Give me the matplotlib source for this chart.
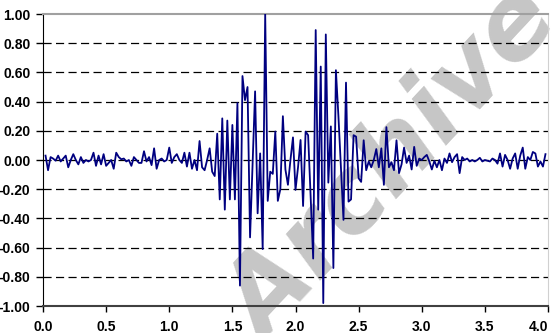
import matplotlib
matplotlib.use("Agg")
import matplotlib.pyplot as plt
import numpy as np

# sampled signal, one value every 0.02 s starting at t = 0.02
quiet_head = [
    0.03, -0.07, 0.02, 0.01, -0.005, 0.03, -0.01, 0.01, 0.03, -0.05,
    0.0, 0.04, 0.0, -0.03, 0.02, -0.02, 0.0, -0.01, 0.0, 0.05,
    -0.04, 0.03, -0.03, 0.04, -0.04, -0.02, 0.0, -0.06, 0.05, 0.02,
    0.005, 0.01, -0.01, 0.0, -0.04, 0.02, 0.0, -0.02,
    -0.02, 0.06, -0.01, 0.02, -0.035, 0.08, -0.06, 0.0, 0.01, -0.01,
    0.0, 0.085, -0.02, 0.02, 0.04, 0.0, -0.02, 0.05, -0.045, 0.05,
    -0.06, 0.0, -0.07, 0.13, -0.05, -0.07, 0.0, 0.08, -0.08, -0.11,
]
burst = [
    0.18, -0.27, 0.285, -0.34, 0.27, -0.27, 0.24, -0.27, 0.39, -0.86,
    0.575, 0.41, 0.50, -0.53, -0.03, 0.47, -0.365, 0.045, -0.61, 1.00,
    -0.28, -0.08, -0.095, 0.195, -0.28, -0.20, 0.30,
    -0.065, -0.17, 0.0, 0.155, -0.205, -0.05, 0.137, -0.315, 0.195, 0.17,
    -0.25, -0.675, 0.89, -0.34, 0.64, -0.98, 0.86, -0.155, 0.23, -0.74,
    0.615, 0.3, -0.05, -0.41, 0.53, -0.285,
]
quiet_tail = [
    -0.27, 0.17, 0.16, -0.125, -0.15, 0.135, -0.07, -0.01, -0.05, 0.0,
    0.075, -0.05, 0.08, -0.17, 0.225, -0.05, -0.015, -0.07, 0.135, -0.09,
    -0.03, 0.085, -0.02, 0.03, -0.065, 0.09, -0.04, 0.01, 0.0, 0.02,
    0.035, -0.01, -0.065, -0.005, -0.05, 0.0, -0.07, 0.01,
    -0.02, 0.045, -0.015, 0.02, 0.04, -0.09, 0.02, 0.0, 0.01, -0.01,
    0.0, -0.01, 0.0, 0.015, -0.01, 0.0, -0.005, -0.01, 0.01, 0.0,
    -0.025, 0.045, -0.045, 0.035, 0.0, -0.06, 0.01, 0.045, -0.06, 0.03,
    0.085, -0.06, 0.02, 0.0, 0.055, 0.045, -0.045, -0.01, -0.045, 0.04,
]

values = np.array(quiet_head + burst + quiet_tail)
dt = 0.02
t = dt * np.arange(1, len(values) + 1)

y_ticks = [-1.0, -0.8, -0.6, -0.4, -0.2, 0.0, 0.2, 0.4, 0.6, 0.8, 1.0]
y_labels = ["-1.00", "-0.80", "-0.60", "-0.40", "-0.20", "0.00",
            "0.20", "0.40", "0.60", "0.80", "1.00"]
x_ticks = [0.0, 0.5, 1.0, 1.5, 2.0, 2.5, 3.0, 3.5, 4.0]
x_labels = ["0.0", "0.5", "1.0", "1.5", "2.0", "2.5", "3.0", "3.5", "4.0"]

plt.rcParams["font.family"] = ["Liberation Sans", "DejaVu Sans"]

fig = plt.figure(figsize=(5.56, 3.33), dpi=100)
ax = fig.add_axes([43 / 556, 1 - 306 / 333, 505 / 556, 292 / 333])
ax.patch.set_visible(False)

# grey watermark sits behind the chart
fig.text(0.71, 0.50, "Archive", rotation=47, fontsize=74, fontweight="bold",
         fontstyle="italic", family="DejaVu Sans", color="#c6c6c6",
         ha="center", va="center", zorder=-1)

for yv in y_ticks[1:-1]:
    ax.axhline(yv, color="black", lw=0.9, dashes=(6.5, 3.5), zorder=1)

ax.plot(t, values, color="#000080", lw=1.3, zorder=3)

ax.set_xlim(0, 4.0)
ax.set_ylim(-1.0, 1.0)
ax.set_yticks(y_ticks)
ax.set_yticklabels(y_labels, fontweight="bold", fontsize=10)
ax.set_xticks(x_ticks)
ax.set_xticklabels(x_labels, fontweight="bold", fontsize=10)
# last x label sits right at the figure edge, nudge it in a little
ax.get_xticklabels()[-1].set_horizontalalignment("right")
ax.get_xticklabels()[-1].set_x(4.0)

ax.tick_params(axis="y", direction="out", length=5, width=1, pad=4)
ax.tick_params(axis="x", direction="out", length=4, width=1, pad=6)

ax.spines["left"].set_color("black")
ax.spines["bottom"].set_color("#404040")
ax.spines["bottom"].set_linewidth(1.5)
ax.spines["top"].set_color("#a0a0a0")
ax.spines["top"].set_linewidth(1.5)
ax.spines["right"].set_color("#d0d0d0")

fig.savefig("out.png", dpi=100)
